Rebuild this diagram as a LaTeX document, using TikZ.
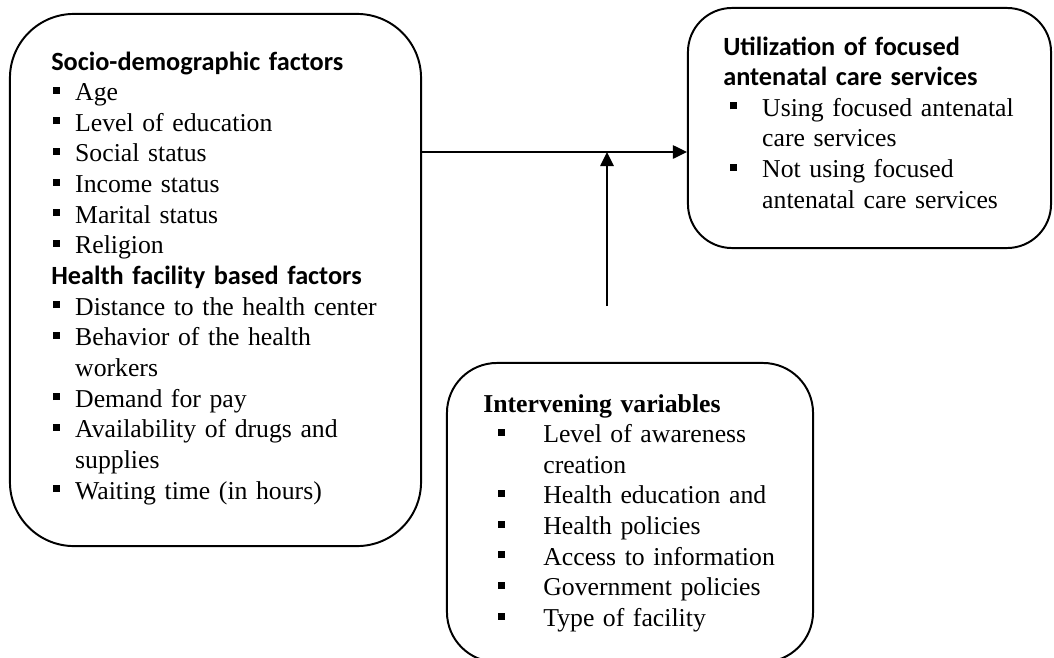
\documentclass[tikz,border=0pt]{standalone}
\usepackage{fontspec}
\setmainfont{Liberation Serif}
\newfontfamily\headfont{Carlito}
\usepackage{tikz}
\usetikzlibrary{arrows.meta,positioning,calc}

% square bullet and list lines
\newcommand{\bsq}{\rule[5pt]{5pt}{5pt}}
\newcommand{\itm}[3]{\makebox[#2][l]{\hspace*{#1}\bsq}#3}
\newcommand{\sitem}[1]{\itm{1.4pt}{17pt}{#1}}
\newcommand{\uitem}[1]{\itm{5pt}{27.7pt}{#1}}
\newcommand{\vitem}[1]{\itm{10.7pt}{42.7pt}{#1}}
\newcommand{\hd}[1]{{\headfont\bfseries\fontsize{18.7}{21.8}\selectfont #1}}

\begin{document}
\begin{tikzpicture}[x=0.025cm,y=-0.025cm,>={Triangle[length=10pt,width=9.5pt]}]
  \tikzstyle{frame}=[rectangle,draw,line width=1.4pt,inner sep=0pt]
  \tikzstyle{txt}=[anchor=base west,inner sep=0pt,text width=9cm,align=left,font=\fontsize{18.3}{21.8}\selectfont]

  \useasboundingbox (0,0) rectangle (1054,658);

  % boxes
  \node[frame,rounded corners=1.6cm,minimum width=10.275cm,minimum height=13.3cm] (socio) at (215.5,280) {};
  \node[frame,rounded corners=1.1cm,minimum width=9.075cm,minimum height=6cm] (util) at (869.5,128) {};
  \node[frame,rounded corners=1.25cm,minimum width=9.15cm,minimum height=7.475cm] (interv) at (630,512.5) {};

  % box contents
  \node[txt] (sociotxt) at (51,70) {\hd{Socio-demographic factors}\\
    \sitem{Age}\\
    \sitem{Level of education}\\
    \sitem{Social status}\\
    \sitem{Income status}\\
    \sitem{Marital status}\\
    \sitem{Religion}\\
    \hd{Health facility based factors}\\
    \sitem{Distance to the health center}\\
    \sitem{Behavior of the health}\\
    \hspace*{17pt}workers\\
    \sitem{Demand for pay}\\
    \sitem{Availability of drugs and}\\
    \hspace*{17pt}supplies\\
    \sitem{Waiting time (in hours)}};

  \node[txt] (utiltxt) at (723,55) {\hd{Utilization of focused}\\
    \hd{antenatal care services}\\
    \uitem{Using focused antenatal}\\
    \hspace*{27.7pt}care services\\
    \uitem{Not using focused}\\
    \hspace*{27.7pt}antenatal care services};

  \node[txt] (intervtxt) at (483,412) {\textbf{Intervening variables}\\
    \vitem{Level of awareness}\\
    \hspace*{42.7pt}creation\\
    \vitem{Health education and}\\
    \vitem{Health policies}\\
    \vitem{Access to information}\\
    \vitem{Government policies}\\
    \vitem{Type of facility}};

  % arrows
  \coordinate (meet) at (607,152);
  \coordinate (foot) at (607,306);
  \draw[->,line width=1.2pt] (socio.east |- meet) -- (util.west |- meet);
  \draw[->,line width=1.2pt] (foot) -- (meet);
\end{tikzpicture}
\end{document}
